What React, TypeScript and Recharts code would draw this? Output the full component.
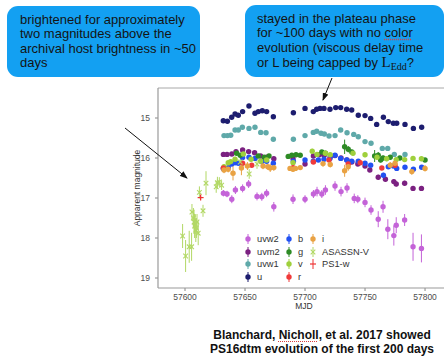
import React from 'react';
import {
  ScatterChart,
  Scatter,
  XAxis,
  YAxis,
  ErrorBar,
  Legend,
  ReferenceLine,
} from 'recharts';

type Pt = [number, number, number];

// [MJD, magnitude, error]
const uvw2: Pt[] = [
  [57632, 16.88, 0.08], [57635, 16.9, 0.08], [57639, 17.03, 0.1], [57642, 16.8, 0.1],
  [57648, 16.76, 0.1], [57653, 16.65, 0.1], [57660, 16.96, 0.1], [57664, 16.97, 0.1],
  [57668, 16.88, 0.1], [57674, 17.22, 0.12], [57690, 17.03, 0.12], [57700, 17.03, 0.1],
  [57707, 16.9, 0.1], [57710, 16.84, 0.12], [57714, 16.9, 0.1], [57717, 16.8, 0.12],
  [57725, 16.7, 0.12], [57730, 16.84, 0.12], [57735, 16.75, 0.12], [57741, 17.01, 0.12],
  [57744, 17.03, 0.1], [57750, 17.11, 0.12], [57755, 17.3, 0.12], [57761, 17.53, 0.2],
  [57765, 17.22, 0.15], [57769, 17.78, 0.25], [57774, 17.94, 0.25], [57776, 17.68, 0.2],
  [57783, 17.55, 0.15], [57790, 18.22, 0.35], [57797, 18.26, 0.35],
];
const uvm2: Pt[] = [
  [57632, 15.91, 0.05], [57635, 15.91, 0.05], [57639, 15.9, 0.05], [57642.5, 15.84, 0.05],
  [57648, 15.8, 0.05], [57653, 15.84, 0.05], [57658, 15.87, 0.05], [57663, 15.95, 0.05],
  [57668, 15.98, 0.05], [57674, 16.02, 0.05], [57690, 16.02, 0.05], [57700, 16.15, 0.05],
  [57707, 15.95, 0.05], [57712, 15.92, 0.05], [57716, 15.93, 0.05], [57721, 15.97, 0.05],
  [57725, 15.94, 0.05], [57730, 16.0, 0.05], [57735, 16.05, 0.05], [57739, 16.1, 0.05],
  [57744, 16.15, 0.05], [57750, 16.2, 0.05], [57754, 16.3, 0.05], [57761, 16.48, 0.06],
  [57767, 16.53, 0.06], [57774, 16.59, 0.06], [57776, 16.65, 0.06], [57783, 16.63, 0.06],
  [57790, 16.76, 0.06], [57797, 16.76, 0.06],
];
const uvw1: Pt[] = [
  [57632.5, 15.44, 0.04], [57635.3, 15.44, 0.04], [57638.1, 15.43, 0.04], [57641.7, 15.3, 0.04],
  [57644.4, 15.3, 0.04], [57647.8, 15.23, 0.04], [57653.3, 15.26, 0.04], [57658.3, 15.23, 0.04],
  [57663.1, 15.36, 0.04], [57667.5, 15.37, 0.04], [57673.6, 15.53, 0.04], [57690.3, 15.53, 0.04],
  [57700, 15.44, 0.04], [57706.9, 15.36, 0.04], [57709.7, 15.33, 0.04], [57713.3, 15.38, 0.04],
  [57716.1, 15.4, 0.04], [57720, 15.45, 0.04], [57725, 15.44, 0.04], [57729.7, 15.3, 0.04],
  [57735, 15.37, 0.04], [57740.6, 15.41, 0.04], [57744.4, 15.47, 0.04], [57750, 15.59, 0.04],
  [57755, 15.63, 0.04], [57764.4, 15.76, 0.05], [57768.9, 15.76, 0.05], [57774.4, 15.91, 0.05],
  [57783.3, 15.91, 0.05],
];
const uBand: Pt[] = [
  [57631.9, 15.07, 0.03], [57635.3, 15.08, 0.03], [57638.9, 14.98, 0.03], [57641.7, 14.9, 0.03],
  [57644.4, 14.93, 0.03], [57648, 14.84, 0.03], [57653.3, 14.7, 0.03], [57658.3, 14.88, 0.03],
  [57661.1, 14.84, 0.03], [57664.4, 14.82, 0.03], [57668, 14.84, 0.03], [57673.6, 14.97, 0.03],
  [57690.3, 14.87, 0.03], [57700, 14.76, 0.03], [57706.9, 14.84, 0.03], [57709.7, 14.78, 0.03],
  [57712.5, 14.76, 0.03], [57715.8, 14.76, 0.03], [57720.8, 14.78, 0.03], [57725.6, 14.74, 0.03],
  [57729.7, 14.74, 0.03], [57734.7, 14.78, 0.03], [57738.9, 14.8, 0.03], [57744.4, 14.93, 0.03],
  [57750, 14.94, 0.03], [57754.7, 15.01, 0.03], [57759.7, 15.16, 0.03], [57765.3, 14.98, 0.03],
  [57769.4, 15.09, 0.03], [57773.6, 15.13, 0.03], [57776.4, 15.13, 0.03], [57783.3, 15.16, 0.03],
  [57790.3, 15.26, 0.03], [57797.2, 15.23, 0.03],
];
const bBand: Pt[] = [
  [57631.9, 16.26, 0.04], [57636.1, 16.24, 0.04], [57638.9, 16.15, 0.04], [57641.7, 16.12, 0.04],
  [57644.4, 16.13, 0.04], [57648, 15.99, 0.04], [57653.3, 15.98, 0.04], [57658.3, 16.01, 0.04],
  [57663.9, 16.09, 0.04], [57668, 16.08, 0.04], [57673.6, 16.13, 0.04], [57690.3, 16.08, 0.04],
  [57700, 16.05, 0.04], [57706.9, 16.08, 0.04], [57711.1, 16.05, 0.04], [57715.8, 16.03, 0.04],
  [57720.8, 16.01, 0.04], [57725, 15.93, 0.04], [57729.7, 16.01, 0.04], [57734.7, 16.05, 0.04],
  [57738.9, 16.08, 0.04], [57744.4, 16.08, 0.04], [57750, 16.13, 0.04], [57754.7, 16.18, 0.04],
  [57765.3, 16.43, 0.06], [57769.4, 16.22, 0.04], [57773.6, 16.2, 0.04], [57776.4, 16.26, 0.04],
  [57783.3, 16.23, 0.04], [57790.3, 16.28, 0.04], [57797.2, 16.23, 0.04],
];
const gBand: Pt[] = [
  [57643, 15.88, 0.05], [57646, 15.93, 0.05], [57661, 15.95, 0.05], [57666, 15.98, 0.05],
  [57670, 15.95, 0.05], [57686, 15.96, 0.05], [57689, 15.93, 0.05], [57692.5, 15.92, 0.05],
  [57696, 15.93, 0.05], [57714, 15.85, 0.05], [57717, 15.88, 0.05], [57733, 15.72, 0.18],
  [57736, 15.78, 0.08], [57739, 15.85, 0.06], [57758, 15.95, 0.15], [57761, 15.93, 0.08],
  [57763, 16.05, 0.06], [57765, 16.0, 0.06], [57771, 15.98, 0.05], [57779, 16.0, 0.05],
  [57800, 16.05, 0.05],
];
const vBand: Pt[] = [
  [57632.5, 16.22, 0.06], [57636, 16.12, 0.06], [57638, 16.09, 0.06], [57641.7, 16.03, 0.06],
  [57648.6, 15.9, 0.06], [57655, 16.03, 0.06], [57663, 16.08, 0.06], [57668, 16.05, 0.06],
  [57690, 16.12, 0.06], [57706, 15.83, 0.06], [57710, 15.91, 0.06], [57717, 15.88, 0.06],
  [57721, 15.92, 0.06], [57740, 15.88, 0.06], [57750, 15.92, 0.06], [57760, 15.98, 0.06],
  [57768, 16.02, 0.06], [57776, 16.04, 0.06], [57783, 16.04, 0.06], [57790, 16.01, 0.06],
  [57797, 16.02, 0.06],
];
const rBand: Pt[] = [
  [57632, 16.25, 0.05], [57648, 16.13, 0.05], [57655.6, 16.18, 0.05], [57690, 16.24, 0.05],
  [57707, 16.1, 0.05], [57720, 16.05, 0.05], [57736, 16.15, 0.05], [57746, 16.12, 0.05],
  [57764, 16.25, 0.05], [57775, 16.18, 0.05],
];
const iBand: Pt[] = [
  [57632.5, 16.3, 0.08], [57636, 16.28, 0.08], [57640, 16.38, 0.18], [57647, 16.25, 0.18],
  [57652, 16.2, 0.1], [57665, 16.2, 0.08], [57669, 16.22, 0.08], [57671, 16.25, 0.1],
  [57674, 16.24, 0.08], [57687.5, 16.26, 0.06], [57690, 16.28, 0.06], [57692, 16.26, 0.06],
  [57696, 16.24, 0.06], [57715, 16.14, 0.08], [57721, 16.16, 0.08], [57733, 16.32, 0.15],
  [57736, 16.22, 0.1], [57771, 16.18, 0.08], [57775, 16.13, 0.08], [57789, 16.34, 0.08],
  [57800, 16.26, 0.08],
];
const asassnV: Pt[] = [
  [57598, 17.95, 0.3], [57600.5, 18.45, 0.4], [57603.5, 18.22, 0.4], [57605.5, 18.22, 0.35],
  [57605.8, 17.35, 0.2], [57607, 17.5, 0.25], [57607.5, 17.6, 0.3], [57608, 17.7, 0.3],
  [57608.5, 17.65, 0.25], [57609, 17.8, 0.3], [57609.5, 17.75, 0.25], [57610, 17.6, 0.2],
  [57611, 17.88, 0.3], [57615, 17.32, 0.15], [57612, 16.86, 0.15], [57617.5, 16.63, 0.3],
  [57626, 16.72, 0.15], [57627, 16.62, 0.15], [57628.6, 16.6, 0.12], [57630.5, 16.68, 0.12],
  [57646, 16.1, 0.15], [57653.5, 16.4, 0.12], [57660, 16.15, 0.12],
];
const ps1w: Pt[] = [[57613, 16.99, 0.05]];

const xTicks = [57600, 57650, 57700, 57750, 57800];
const yTicks = [15, 16, 17, 18, 19];

const FONT = '"Liberation Sans", Arial, Helvetica, sans-serif';

type Kind = 'dot' | 'cross' | 'plus';
const SERIES: { name: string; pts: Pt[]; color: string; kind: Kind }[] = [
  { name: 'uvw2', pts: uvw2, color: '#c463d8', kind: 'dot' },
  { name: 'uvm2', pts: uvm2, color: '#7b2181', kind: 'dot' },
  { name: 'uvw1', pts: uvw1, color: '#5fa9a9', kind: 'dot' },
  { name: 'u', pts: uBand, color: '#1d1d6f', kind: 'dot' },
  { name: 'b', pts: bBand, color: '#2251f2', kind: 'dot' },
  { name: 'g', pts: gBand, color: '#2e8b25', kind: 'dot' },
  { name: 'v', pts: vBand, color: '#9fd03c', kind: 'dot' },
  { name: 'r', pts: rBand, color: '#f03a3a', kind: 'dot' },
  { name: 'i', pts: iBand, color: '#e9a243', kind: 'dot' },
  { name: 'ASASSN-V', pts: asassnV, color: '#b2d865', kind: 'cross' },
  { name: 'PS1-w', pts: ps1w, color: '#ee3333', kind: 'plus' },
];

const rows = (pts: Pt[]) => pts.map(([x, y, e]) => ({ x, y, e }));

const makeShape = (kind: Kind, color: string) => (p: any) => {
  const { cx, cy } = p;
  if (kind === 'cross') {
    return (
      <g stroke={color} strokeWidth={1.1}>
        <line x1={cx - 2.3} y1={cy - 2.3} x2={cx + 2.3} y2={cy + 2.3} />
        <line x1={cx - 2.3} y1={cy + 2.3} x2={cx + 2.3} y2={cy - 2.3} />
      </g>
    );
  }
  if (kind === 'plus') {
    return (
      <g stroke={color} strokeWidth={1.2}>
        <line x1={cx - 3} y1={cy} x2={cx + 3} y2={cy} />
        <line x1={cx} y1={cy - 3} x2={cx} y2={cy + 3} />
      </g>
    );
  }
  return <circle cx={cx} cy={cy} r={2.7} fill={color} />;
};

const LegendMarker = ({ kind, color }: { kind: Kind; color: string }) => (
  <svg width={10} height={12} style={{ position: 'absolute', left: -5, top: -6 }}>
    <line x1={5} y1={1} x2={5} y2={11} stroke={color} strokeWidth={1} />
    {kind === 'dot' && <circle cx={5} cy={6} r={2.7} fill={color} />}
    {kind === 'cross' && (
      <g stroke={color} strokeWidth={1.1}>
        <line x1={2.7} y1={3.7} x2={7.3} y2={8.3} />
        <line x1={2.7} y1={8.3} x2={7.3} y2={3.7} />
      </g>
    )}
    {kind === 'plus' && <line x1={2} y1={6} x2={8} y2={6} stroke={color} strokeWidth={1.2} />}
  </svg>
);

const renderLegend = () => {
  const colX = [8, 49, 73];
  const rowY = [6, 18.5, 31, 43.5];
  const cols = [SERIES.slice(0, 4), SERIES.slice(4, 8), SERIES.slice(8)];
  return (
    <div style={{ position: 'relative', width: 150, height: 52, fontFamily: FONT }}>
      {cols.map((col, ci) =>
        col.map((s, ri) => (
          <div key={s.name} style={{ position: 'absolute', left: colX[ci], top: rowY[ri] }}>
            <LegendMarker kind={s.kind} color={s.color} />
            <span
              style={{
                position: 'absolute',
                left: 9,
                top: -6,
                fontSize: 9.3,
                lineHeight: '12px',
                color: '#333',
                whiteSpace: 'nowrap',
              }}
            >
              {s.name}
            </span>
          </div>
        )),
      )}
    </div>
  );
};

const bubble: React.CSSProperties = {
  position: 'absolute',
  background: '#13a0f2',
  borderRadius: 11,
  color: '#141414',
  fontFamily: FONT,
  fontSize: 13,
  lineHeight: '14.3px',
  boxSizing: 'border-box',
};

const spell: React.CSSProperties = {
  textDecoration: 'underline dotted #d84040',
  textUnderlineOffset: 2,
};

export default function App() {
  return (
    <div
      style={{
        position: 'absolute',
        left: 0,
        top: 0,
        width: 444,
        height: 360,
        background: '#fff',
        overflow: 'hidden',
        fontFamily: FONT,
      }}
    >
      <ScatterChart
        width={444}
        height={320}
        margin={{ top: 88, right: 0, bottom: 0, left: 0 }}
        style={{ position: 'absolute', left: 0, top: 0 }}
      >
        <XAxis
          type="number"
          dataKey="x"
          domain={[57577.5, 57815.8]}
          ticks={xTicks}
          allowDataOverflow
          height={32}
          stroke="#9a9a9a"
          strokeWidth={1.2}
          tickSize={3}
          tickMargin={3}
          tick={{ fill: '#4d4d4d', fontSize: 8.5, fontFamily: FONT }}
          label={{
            content: (p: any) => {
              const vb = p.viewBox || { x: 158, width: 286, y: 288 };
              return (
                <text
                  x={vb.x + vb.width / 2 + 3}
                  y={vb.y + 21}
                  textAnchor="middle"
                  fontSize={8.5}
                  fontFamily={FONT}
                  fill="#333"
                >
                  MJD
                </text>
              );
            },
          }}
        />
        <YAxis
          type="number"
          dataKey="y"
          domain={[14.25, 19.25]}
          ticks={yTicks}
          reversed
          allowDataOverflow
          width={158}
          stroke="#9a9a9a"
          strokeWidth={1.2}
          tickSize={3}
          tickMargin={5}
          tick={{ fill: '#4d4d4d', fontSize: 8.5, fontFamily: FONT }}
          label={{
            content: (p: any) => {
              const vb = p.viewBox || { x: 0, width: 158, y: 88, height: 200 };
              const cx = vb.x + vb.width - 20;
              const cy = vb.y + vb.height / 2;
              return (
                <text
                  x={cx}
                  y={cy}
                  transform={`rotate(-90 ${cx} ${cy})`}
                  textAnchor="middle"
                  dominantBaseline="middle"
                  fontSize={8.5}
                  fontFamily={FONT}
                  fill="#333"
                >
                  Apparent magnitude
                </text>
              );
            },
          }}
        />
        <ReferenceLine y={14.25} stroke="#a8a8a8" strokeWidth={1} ifOverflow="extendDomain" />
        {SERIES.map((s) => (
          <Scatter
            key={s.name}
            name={s.name}
            data={rows(s.pts)}
            isAnimationActive={false}
            shape={makeShape(s.kind, s.color)}
          >
            <ErrorBar
              dataKey="e"
              direction="y"
              width={0}
              stroke={s.color}
              strokeWidth={1}
              isAnimationActive={false}
            />
          </Scatter>
        ))}
        <Legend
          layout="vertical"
          align="center"
          verticalAlign="middle"
          content={renderLegend}
          wrapperStyle={{ position: 'absolute', left: 240, top: 233, width: 150, height: 52 }}
        />
      </ScatterChart>

      {/* annotation arrows */}
      <svg width={444} height={360} style={{ position: 'absolute', left: 0, top: 0, pointerEvents: 'none' }}>
        <defs>
          <marker id="ah" markerWidth="8" markerHeight="6" refX="7" refY="3" orient="auto" markerUnits="userSpaceOnUse">
            <path d="M0,0 L8,3 L0,6 Z" fill="#111" />
          </marker>
        </defs>
        <line x1={125} y1={128} x2={187} y2={178} stroke="#111" strokeWidth={1} markerEnd="url(#ah)" />
        <line x1={332} y1={78} x2={323} y2={100} stroke="#111" strokeWidth={1} markerEnd="url(#ah)" />
      </svg>

      <div style={{ ...bubble, left: 7, top: 6, width: 193, height: 71, padding: '7px 0 0 13px' }}>
        brightened for approximately
        <br />
        two magnitudes above the
        <br />
        archival host brightness in ~50
        <br />
        days
      </div>

      <div style={{ ...bubble, left: 245, top: 5, width: 199, height: 72, padding: '7px 0 0 12px' }}>
        stayed in the plateau phase
        <br />
        for ~100 days with no <span style={spell}>color</span>
        <br />
        evolution (viscous delay time
        <br />
        or L being capped by{' '}
        <span style={{ fontFamily: '"Liberation Serif", "DejaVu Serif", serif', fontSize: 15 }}>
          L<sub style={{ fontSize: 10, verticalAlign: '-3px' }}>Edd</sub>
        </span>
        ?
      </div>

      <div
        style={{
          position: 'absolute',
          left: 200,
          top: 328,
          width: 244,
          textAlign: 'center',
          fontFamily: FONT,
          fontWeight: 'bold',
          fontSize: 12,
          lineHeight: '14px',
          color: '#111',
        }}
      >
        Blanchard, <span style={spell}>Nicholl</span>, et al. 2017 showed
        <br />
        PS16dtm evolution of the first 200 days
      </div>
    </div>
  );
}
